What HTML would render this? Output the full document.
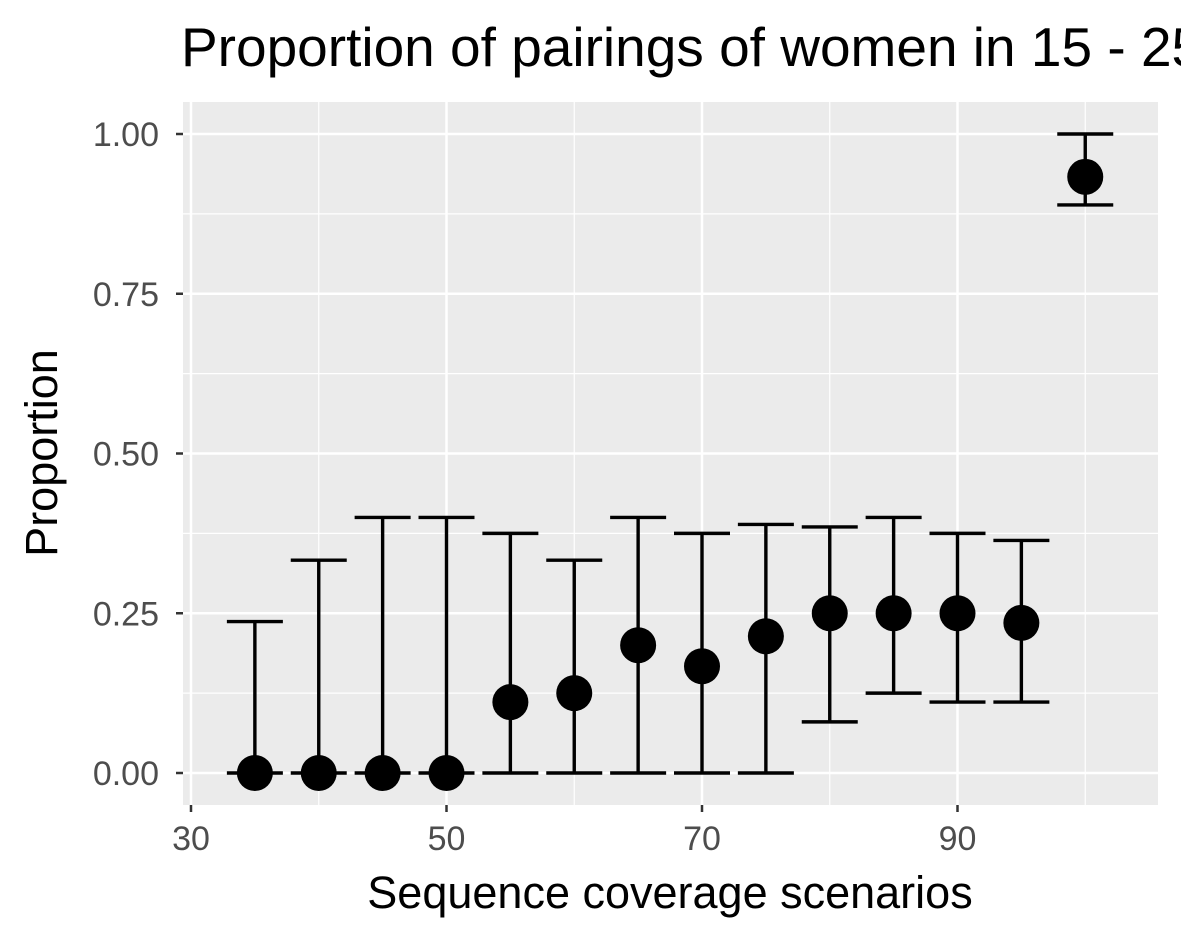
<!DOCTYPE html>
<html><head><meta charset="utf-8"><style>
body{margin:0;background:#fff;overflow:hidden}
text{font-family:"Liberation Sans",Arial,sans-serif}
</style></head><body>
<svg id="chart" width="1181" height="944" xmlns="http://www.w3.org/2000/svg">
<text x="181" y="66" font-size="55" fill="#000">Proportion of pairings of women in 15 - 25</text>
<rect x="183" y="102" width="975" height="703" fill="#ebebeb"/>
<g id="grid"></g><g id="marks"></g><g id="axes"></g>
<text x="670" y="908" font-size="45" text-anchor="middle">Sequence coverage scenarios</text>
<text transform="translate(57,453) rotate(-90)" font-size="45" text-anchor="middle">Proportion</text>
</svg>
<script>
const scenarios=[35,40,45,50,55,60,65,70,75,80,85,90,95,100];
const proportion=[0,0,0,0,0.111,0.125,0.2,0.167,0.214,0.25,0.25,0.25,0.235,0.933];
const lower=[0,0,0,0,0,0,0,0,0,0.08,0.125,0.111,0.111,0.889];
const upper=[0.237,0.333,0.4,0.4,0.375,0.333,0.4,0.375,0.389,0.385,0.4,0.375,0.364,1.0];
const xTicks=[30,50,70,90];
const yTicks=[0,0.25,0.5,0.75,1.0];
const yTickLabels=["0.00","0.25","0.50","0.75","1.00"];
const NS="http://www.w3.org/2000/svg";
const xs=v=>191+(v-30)*12.775;
const ys=v=>773-v*639;
function mk(tag,attrs,parent,txt){const e=document.createElementNS(NS,tag);for(const k in attrs)e.setAttribute(k,attrs[k]);if(txt!==undefined)e.textContent=txt;document.getElementById(parent).appendChild(e);return e;}
[40,60,80,100].forEach(v=>{const e=mk('line',{x1:xs(v),x2:xs(v),y1:102,y2:805,stroke:'#fff','stroke-width':1.2},'grid');

});
[0.125,0.375,0.625,0.875].forEach(v=>{const e=mk('line',{x1:183,x2:1158,y1:ys(v),y2:ys(v),stroke:'#fff','stroke-width':1.2},'grid');

});
xTicks.forEach(v=>{const e=mk('line',{x1:xs(v),x2:xs(v),y1:102,y2:805,stroke:'#fff','stroke-width':2.5},'grid');


const t=mk('line',{x1:xs(v),x2:xs(v),y1:805,y2:812,stroke:'#333','stroke-width':2.5},'axes');


const l=mk('text',{x:xs(v),y:850,'font-size':34,fill:'#4d4d4d','text-anchor':'middle'},'axes',String(v));

});
yTicks.forEach((v,i)=>{const e=mk('line',{x1:183,x2:1158,y1:ys(v),y2:ys(v),stroke:'#fff','stroke-width':2.5},'grid');


const t=mk('line',{x1:176,x2:183,y1:ys(v),y2:ys(v),stroke:'#333','stroke-width':2.5},'axes');


const l=mk('text',{x:159,y:ys(v)+12,'font-size':34,fill:'#4d4d4d','text-anchor':'end'},'axes',yTickLabels[i]);

});
scenarios.forEach((s,i)=>{const x=xs(s),hw=28;
const g=mk('g',{},'marks');


const d=`M${x-hw},${ys(upper[i])}H${x+hw}M${x},${ys(upper[i])}V${ys(lower[i])}M${x-hw},${ys(lower[i])}H${x+hw}`;
const p=document.createElementNS(NS,'path');p.setAttribute('d',d);p.setAttribute('stroke','#000');p.setAttribute('stroke-width',3.4);p.setAttribute('fill','none');g.appendChild(p);
const c=mk('circle',{cx:x,cy:ys(proportion[i]),r:18,fill:'#000'},'marks');

});
</script>
</body></html>
